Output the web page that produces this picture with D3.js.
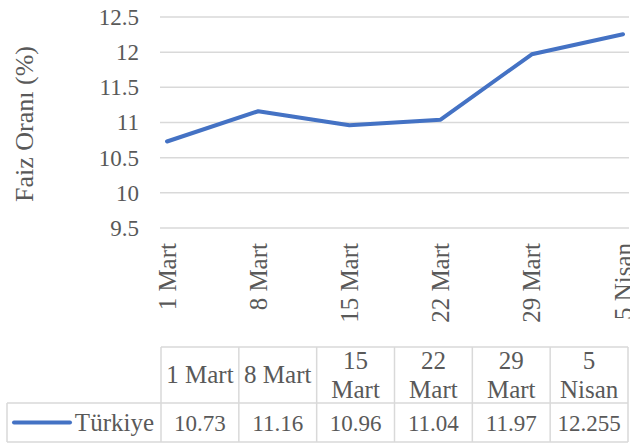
<!DOCTYPE html>
<html>
<head>
<meta charset="utf-8">
<script src="https://cdn.jsdelivr.net/npm/d3@7"></script>
</head>
<body style="margin:0">
<script>
// Data
const categories = ['1 Mart', '8 Mart', '15 Mart', '22 Mart', '29 Mart', '5 Nisan'];
const seriesName = 'Türkiye';
const values = [10.73, 11.16, 10.96, 11.04, 11.97, 12.255];
const valueLabels = ['10.73', '11.16', '10.96', '11.04', '11.97', '12.255'];
const yTicks = [9.5, 10, 10.5, 11, 11.5, 12, 12.5];
const yTitle = 'Faiz Oranı (%)';

const width = 630, height = 448;
const labelSize = 25;
const numberSize = 23;
const fontFamily = 'Liberation Serif';
const textColor = '#595959';
const lineColor = '#4472C4';
const gridColor = '#d9d9d9';

const svg = d3
  .select('body')
  .append('svg')
  .attr('width', width)
  .attr('height', height)
  .attr('font-family', fontFamily);

function styleText(sel, size) {
  sel
    .attr('font-family', fontFamily)
    .attr('font-size', size)
    .attr('fill', textColor);
}

// Scales
const x = d3.scalePoint().domain(categories).range([167, 623]);
const y = d3.scaleLinear().domain([9.5, 12.5]).range([228, 17]);

// Gridlines
svg
  .append('g')
  .attr('class', 'grid')
  .selectAll('line')
  .data(yTicks)
  .enter()
  .append('line')
  .attr('x1', 160)
  .attr('x2', 629)
  .attr('y1', d => y(d))
  .attr('y2', d => y(d))
  .attr('stroke', gridColor)
  .attr('stroke-width', 1.5);

// Y axis labels
const yAxis = d3
  .axisLeft(y)
  .tickValues(yTicks)
  .tickFormat(d3.format('~g'))
  .tickSize(0)
  .tickPadding(0);
const aY = svg
  .append('g')
  .attr('class', 'y-axis')
  .attr('transform', 'translate(139,0)')
  .call(yAxis);
aY.attr('font-family', fontFamily);
aY.select('.domain').remove();
aY.selectAll('text').call(styleText, numberSize);

// Y title
svg
  .append('text')
  .attr('transform', 'translate(33,124) rotate(-90)')
  .attr('text-anchor', 'middle')
  .call(styleText, 26)
  .text(yTitle);

// X axis labels (rotated)
const xAxis = d3.axisBottom(x).tickSize(0).tickPadding(0);
const aX = svg
  .append('g')
  .attr('class', 'x-axis')
  .attr('transform', 'translate(0,' + y(9.5) + ')')
  .call(xAxis);
aX.attr('font-family', fontFamily);
aX.select('.domain').remove();
aX.selectAll('text')
  .call(styleText, labelSize)
  .attr('text-anchor', 'end')
  .attr('dy', null)
  .attr('y', 0)
  .attr('transform', 'translate(8,15) rotate(-90)');

// Line
const line = d3
  .line()
  .x((d, i) => x(categories[i]))
  .y(d => y(d));
svg
  .append('path')
  .datum(values)
  .attr('d', line)
  .attr('fill', 'none')
  .attr('stroke', lineColor)
  .attr('stroke-width', 4)
  .attr('stroke-linejoin', 'round')
  .attr('stroke-linecap', 'round');

// Data table
const col = d3.scaleBand().domain(categories).range([161, 628]);
const rowTop = 347, rowMid = 403, rowBot = 442, legendLeft = 7;
const table = svg.append('g').attr('class', 'data-table');

// borders
const hLines = [
  { x1: col.range()[0], x2: col.range()[1], yv: rowTop },
  { x1: legendLeft, x2: col.range()[1], yv: rowMid },
  { x1: legendLeft, x2: col.range()[1], yv: rowBot }
];
table
  .selectAll('line.h')
  .data(hLines)
  .enter()
  .append('line')
  .attr('class', 'h')
  .attr('x1', d => d.x1)
  .attr('x2', d => d.x2)
  .attr('y1', d => d.yv)
  .attr('y2', d => d.yv)
  .attr('stroke', gridColor)
  .attr('stroke-width', 1.5);

const vEdges = categories.map(c => col(c)).concat([col.range()[1]]);
table
  .selectAll('line.v')
  .data(vEdges)
  .enter()
  .append('line')
  .attr('class', 'v')
  .attr('x1', d => d)
  .attr('x2', d => d)
  .attr('y1', rowTop)
  .attr('y2', rowBot)
  .attr('stroke', gridColor)
  .attr('stroke-width', 1.5);
table
  .append('line')
  .attr('x1', legendLeft)
  .attr('x2', legendLeft)
  .attr('y1', rowMid)
  .attr('y2', rowBot)
  .attr('stroke', gridColor)
  .attr('stroke-width', 1.5);

// header labels, wrapped when too wide
const headerMid = (rowTop + rowMid) / 2;
categories.forEach(c => {
  const cx = col(c) + col.bandwidth() / 2;
  const t = table
    .append('text')
    .attr('x', cx)
    .attr('text-anchor', 'middle')
    .call(styleText, labelSize)
    .text(c);
  if (t.node().getComputedTextLength() > col.bandwidth() - 8) {
    const words = c.split(' ');
    t.text(null);
    const lh = 29;
    words.forEach((w, i) => {
      t.append('tspan')
        .attr('x', cx)
        .attr('y', headerMid + (i - (words.length - 1) / 2) * lh + 8)
        .text(w);
    });
  } else {
    t.attr('y', headerMid + 8);
  }
});

// value row
const dataMid = (rowMid + rowBot) / 2;
table
  .selectAll('text.val')
  .data(valueLabels)
  .enter()
  .append('text')
  .attr('class', 'val')
  .attr('x', (d, i) => col(categories[i]) + col.bandwidth() / 2)
  .attr('y', dataMid + 8)
  .attr('text-anchor', 'middle')
  .call(styleText, numberSize)
  .text(d => d);

// legend key
table
  .append('line')
  .attr('x1', 14)
  .attr('x2', 70)
  .attr('y1', dataMid)
  .attr('y2', dataMid)
  .attr('stroke', lineColor)
  .attr('stroke-width', 4)
  .attr('stroke-linecap', 'round');
table
  .append('text')
  .attr('x', 154)
  .attr('y', dataMid + 8)
  .attr('text-anchor', 'end')
  .call(styleText, labelSize)
  .text(seriesName);
</script>
</body>
</html>
